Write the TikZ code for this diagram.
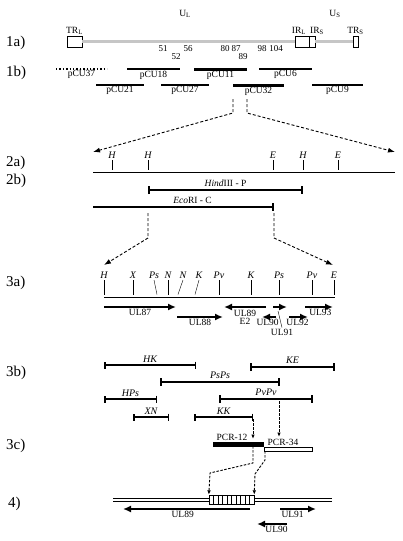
\documentclass[tikz,border=0pt]{standalone}
\usepackage{fontspec}
\setmainfont{Liberation Serif}
\usetikzlibrary{arrows,arrows.meta,positioning}
\tikzstyle{rowlabel} = [
	anchor=west,
	inner sep=0pt,
	font=\fontsize{15}{15}\selectfont
]
\tikzstyle{lbl} = [inner sep=1pt, font=\fontsize{9.5}{9.5}\selectfont]
\tikzstyle{num} = [inner sep=1pt, font=\fontsize{9}{9}\selectfont]
\tikzstyle{site} = [inner sep=1pt, font=\fontsize{10}{10}\selectfont\itshape]
\tikzstyle{point} = [coordinate]
\tikzstyle{box} = [draw, fill=white, inner sep=0pt, minimum height=11pt]
\tikzstyle{genome} = [double=gray!45, double distance=2.4pt, line width=0.6pt]
\tikzstyle{dna} = [double=white, double distance=1.6pt, line width=0.7pt]
\tikzstyle{clone} = [line width=1.4pt]
\tikzstyle{bigclone} = [line width=3pt]
\tikzstyle{frag} = [line width=1.6pt, arrows={Bar[width=7pt,line width=1.5pt]-Bar[width=7pt,line width=1.5pt]}]
\tikzstyle{bigfrag} = [line width=2.6pt, arrows={Bar[width=8pt,line width=1.6pt]-Bar[width=8pt,line width=1.6pt]}]
\tikzstyle{gene} = [line width=2.3pt, arrows={-Latex[length=8pt,width=7pt]}]
\tikzstyle{zoomline} = [dash pattern=on 3pt off 2pt, line width=0.9pt, arrows={-Latex[length=7pt,width=5pt]}]
\tikzstyle{droplink} = [dash pattern=on 2.5pt off 1.5pt, line width=0.9pt, arrows={-Latex[length=4.5pt,width=3.5pt]}]

\begin{document}
\begin{tikzpicture}[x=1pt, y=-1pt]
	\useasboundingbox (0,0) rectangle (402,541);

	% row labels
	\node[rowlabel, name=R1a] at (6,43) {1a)};
	\node[rowlabel, name=R1b] at (6,73) {1b)};
	\node[rowlabel, name=R2a] at (6,163) {2a)};
	\node[rowlabel, name=R2b] at (6,181) {2b)};
	\node[rowlabel, name=R3a] at (6,283) {3a)};
	\node[rowlabel, name=R3b] at (6,373) {3b)};
	\node[rowlabel, name=R3c] at (6,446) {3c)};
	\node[rowlabel, name=R4] at (8,504) {4)};

	% 1a) genome
	\node[lbl, name=UL] at (185,14) {U\textsubscript{L}};
	\node[lbl, name=US] at (335,14) {U\textsubscript{S}};
	\node[box, minimum width=15pt, name=TRL] at (74.5,41.5) {};
	\node[box, minimum width=14pt, name=IRL] at (302,41.5) {};
	\node[box, minimum width=6pt, name=IRS] at (312,41.5) {};
	\node[box, minimum width=5pt, name=TRS] at (355.5,41.5) {};
	\draw[genome] (TRL.east) -- (IRL.west);
	\draw[genome] (IRS.east) -- (TRS.west);
	\node[lbl, above=0pt of TRL] {TR\textsubscript{L}};
	\node[lbl, above=0pt of IRL, xshift=-3pt] {IR\textsubscript{L}};
	\node[lbl, above=0pt of IRS, xshift=5pt] {IR\textsubscript{S}};
	\node[lbl, above=0pt of TRS] {TR\textsubscript{S}};
	\foreach \x/\y/\n in {163/49/51, 176/57/52, 188/49/56, 225/49/80, 236/49/87, 243/57/89, 262/49/98, 276/49/104}
		\node[num] at (\x,\y) {\n};

	% 1b) cosmid clones
	\draw[clone, dotted] (56,69) -- (107,69) node[midway, below, lbl]{pCU37};
	\draw[clone] (127,69) -- (180,69) node[midway, below, lbl]{pCU18};
	\draw[bigclone] (194,69) -- (247,69) node[midway, below, lbl]{pCU11};
	\draw[clone] (259,69) -- (312,69) node[midway, below, lbl]{pCU6};
	\draw[clone] (96,85) -- (144,85) node[midway, below, lbl]{pCU21};
	\draw[clone] (161,85) -- (209,85) node[midway, below, lbl]{pCU27};
	\draw[bigclone] (233,85) -- (284,85) node[midway, below, lbl]{pCU32};
	\draw[clone] (312,85) -- (363,85) node[midway, below, lbl]{pCU9};

	% zoom to 2a)
	\node[point, name=Za] at (233,99) {};
	\node[point, name=Zb] at (247,99) {};
	\node[point, name=Zc] at (93,152) {};
	\node[point, name=Zd] at (395,152) {};
	\draw[zoomline] (Za) -- (233,113) -- (Zc);
	\draw[zoomline] (Zb) -- (247,113) -- (Zd);

	% 2a) restriction map
	\node[point, name=Aa] at (93,171) {};
	\node[point, name=Ab] at (395,171) {};
	\draw[dna] (Aa) -- (Ab);
	\foreach \x/\s in {112/H, 148/H, 273/E, 303/H, 338/E} {
		\draw (\x,160) -- (\x,169.5);
		\node[site, above] at (\x,160) {\s};
	}

	% 2b) fragments
	\draw[bigfrag] (148,190) -- (303,190) node[midway, above=1pt, lbl]{\textit{Hind}III - P};
	\draw[line width=2.6pt, arrows={-Bar[width=8pt,line width=1.6pt]}] (93,207) -- (274,207) node[pos=0.55, above=1pt, lbl]{\textit{Eco}RI - C};

	% zoom to 3a)
	\node[point, name=Ze] at (148,213) {};
	\node[point, name=Zf] at (274,213) {};
	\node[point, name=Zg] at (104,265) {};
	\node[point, name=Zh] at (333,265) {};
	\draw[zoomline] (Ze) -- (148,238) -- (Zg);
	\draw[zoomline] (Zf) -- (274,238) -- (Zh);

	% 3a) fine map
	\draw[dna] (104,296) -- (335,296);
	\foreach \x/\s in {104/H, 133/X, 168/N, 219/Pv, 251/K, 279/Ps, 312/Pv, 334/E} {
		\draw (\x,280) -- (\x,294.5);
		\node[site, above] at (\x,280) {\s};
	}
	\draw (157,294.5) -- (154,280) node[site, above]{Ps};
	\draw (178,294.5) -- (183,280) node[site, above]{N};
	\draw (195,294.5) -- (199,280) node[site, above]{K};

	% 3a) open reading frames
	\draw[gene] (104,307) -- (176,307) node[midway, below, lbl]{UL87};
	\draw[gene] (177,317) -- (223,317) node[midway, below, lbl]{UL88};
	\draw[gene] (266,307) -- (224,307);
	\node[lbl, inner sep=0pt, name=UL89a] at (245,313.5) {UL89};
	\node[lbl, inner sep=0pt, name=E2] at (245,321.5) {E2};
	\draw[gene] (273,307) -- (287,307);
	\draw[gene] (276,317) -- (262,317) node[pos=0.6, below, lbl]{UL90};
	\draw[gene] (289,317) -- (308,317) node[pos=0.45, below, lbl]{UL92};
	\draw[gene] (305,307) -- (333,307) node[pos=0.55, below, lbl]{UL93};
	\node[lbl, name=UL91a] at (282,332) {UL91};
	\draw[thin] (278,311) -- (UL91a.north);

	% 3b) subclones
	\draw[frag] (104,365) -- (196,365) node[midway, above=1pt, site]{HK};
	\draw[bigfrag] (250,367) -- (335,367) node[midway, above=1pt, site]{KE};
	\draw[bigfrag] (160,382) -- (280,382) node[midway, above=1pt, site]{PsPs};
	\draw[frag] (104,399) -- (157,399) node[midway, above=1pt, site]{HPs};
	\draw[bigfrag] (219,399) -- (313,399) node[midway, above=1pt, site]{PvPv};
	\draw[frag] (133,417) -- (169,417) node[midway, above=1pt, site]{XN};
	\draw[frag] (194,417) -- (253,417) node[midway, above=1pt, site]{KK};

	% 3c) PCR products
	\node[draw, fill=black, inner sep=0pt, minimum width=50pt, minimum height=4.5pt, name=PCRa] at (238,444) {};
	\node[draw, fill=white, inner sep=0pt, minimum width=48pt, minimum height=4.5pt, name=PCRb] at (288,449) {};
	\node[lbl, above=0pt of PCRa, xshift=-6pt] {PCR-12};
	\node[lbl, above=0pt of PCRb, xshift=-5pt] {PCR-34};
	\node[point, name=KKe] at (253,419) {};
	\node[point, name=PvPve] at (279,401) {};
	\draw[droplink] (KKe) -- (253,439);
	\draw[droplink] (PvPve) -- (279,437);

	% 4) insertion mutant
	\draw[dna, double distance=2.4pt] (113,500) -- (332,500);
	\node[draw, fill=white, inner sep=0pt, minimum width=45pt, minimum height=9pt, name=INS] at (231.5,499.5) {};
	\foreach \x in {213.5,218,...,250}
		\draw (\x,495) -- (\x,504);
	\node[point, name=Pa] at (253,446) {};
	\node[point, name=Pb] at (265,451) {};
	\draw[droplink] (Pa) -- (253,463) -- (210,473) -- (INS.north west);
	\draw[droplink] (Pb) -- (265,460) -- (255,474) -- (INS.north east);
	\draw[gene, line width=1.5pt] (250,509) -- (123,509) node[pos=0.53, below, lbl]{UL89};
	\draw[gene, line width=1.7pt] (280,509) -- (316,509) node[pos=0.35, below, lbl]{UL91};
	\draw[gene, line width=1.7pt] (287,524) -- (257,524) node[pos=0.35, below, lbl]{UL90};
\end{tikzpicture}
\end{document}
